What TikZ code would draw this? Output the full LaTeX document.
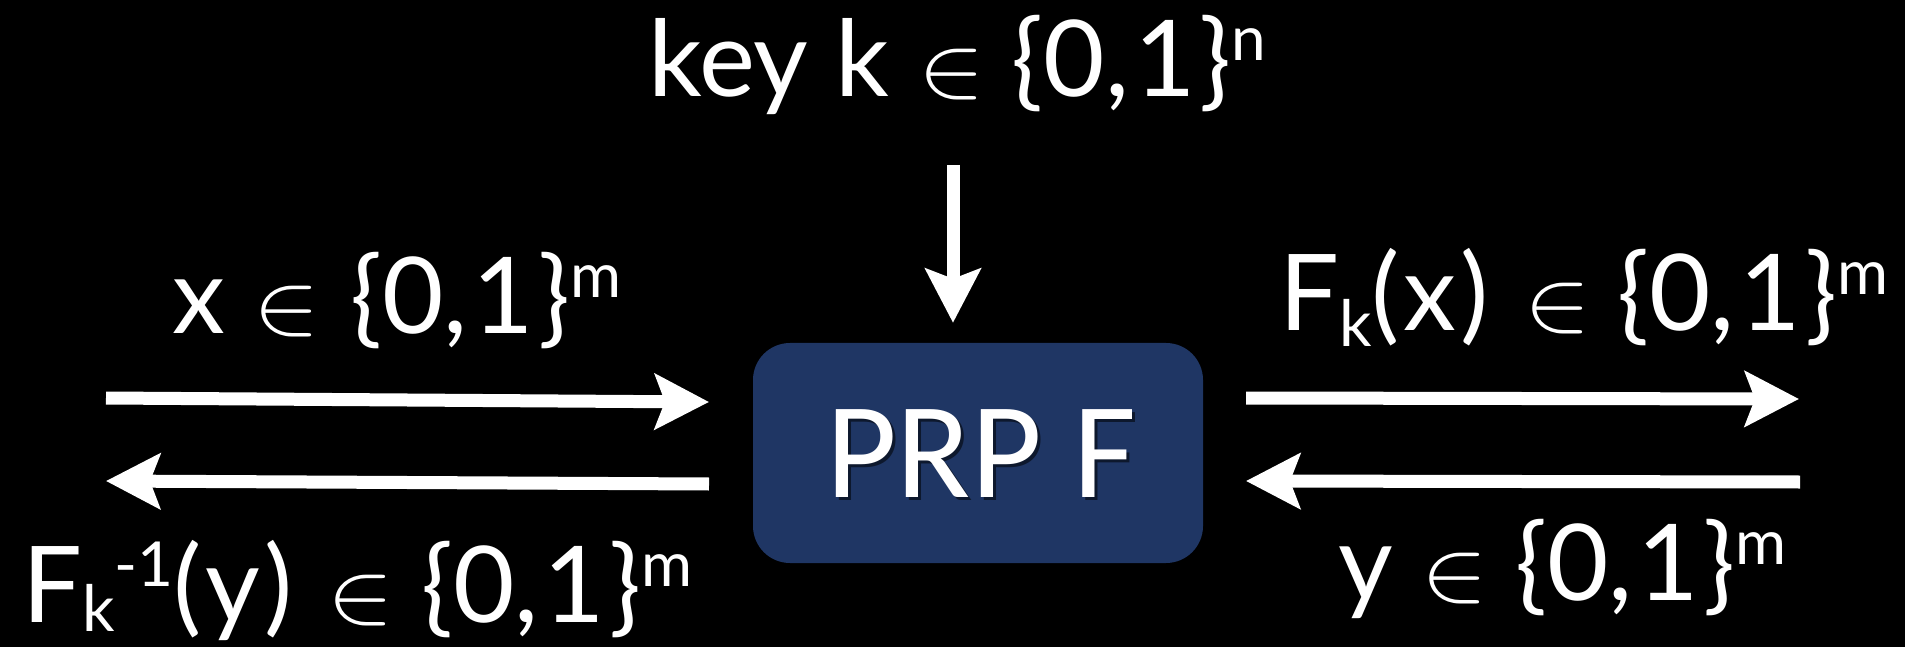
\documentclass[tikz,border=0pt]{standalone}
\usepackage{fontspec}
\setmainfont{Lato}
\newfontfamily\boxfont{Carlito}
\usetikzlibrary{arrows.meta,calc}
\definecolor{prpblue}{RGB}{31,54,100}
\newcommand\supr[1]{\raisebox{36bp}{\fontsize{62bp}{62bp}\selectfont #1}}
\newcommand\subr[2][-16bp]{\raisebox{#1}{\fontsize{64bp}{64bp}\selectfont #2}}
\newcommand\elem{\hspace{29bp}{\fontsize{10bp}{12bp}\selectfont\scalebox{10}[8.8]{$\in$}}\hspace{27bp}}
\newcommand\bits{\{0,\hspace{5bp}1\hspace{4bp}\}}
\tikzset{
  lbl/.style={text=white, inner sep=0pt, anchor=base west, font=\fontsize{106bp}{120bp}\selectfont},
  bigarrow/.style={draw=white, line width=13bp, -{Stealth[length=54bp, width=55bp, inset=10bp]}},
  prpbox/.style={fill=prpblue, rounded corners=37bp, minimum width=450bp, minimum height=220bp, inner sep=0pt},
}
\begin{document}
\begin{tikzpicture}[x=1bp, y=-1bp]
\fill[black] (0,0) rectangle (1905,647);
\useasboundingbox (0,0) rectangle (1905,647);
% box
\node[prpbox] (box) at (978,453) {};
\node[text=black, opacity=0.55, inner sep=0pt, font=\boxfont\fontsize{137bp}{150bp}\selectfont] (prpsh) at (984,457) {PRP F};
\node[text=white, inner sep=0pt, font=\boxfont\fontsize{137bp}{150bp}\selectfont] (prp) at (981,454) {PRP F};
% labels
\node[lbl] (key) at (648,97) {key k\elem\bits\supr{n}};
\node[lbl] (xin) at (172,333) {x\elem\hspace{3bp}\bits\supr{m}};
\node[lbl] (fx) at (1279,330) {F\subr{k}(\hspace{4bp}x\hspace{4bp})\hspace{6bp}\elem\bits\supr{m}};
\node[lbl] (yin) at (1338,600) {y\elem\bits\supr{m}};
\node[lbl] (finv) at (22,622) {F\subr[-9bp]{k}\supr{-1}(\hspace{4bp}y\hspace{4bp})\hspace{6bp}\elem\bits\supr{m}};
% arrow endpoints
\coordinate (ks) at (953,165);
\coordinate (l1s) at (106,398);
\coordinate (l1e) at (709,402);
\coordinate (l2s) at (709,484);
\coordinate (l2e) at (106,481);
\coordinate (r1s) at (1246,398);
\coordinate (r1e) at (1799,399);
\coordinate (r2s) at (1800,482);
\coordinate (r2e) at (1246,481);
% arrows
\draw[bigarrow, shorten >=20bp] (ks) -- (ks |- box.north);
\draw[bigarrow] (l1s) -- (l1e);
\draw[bigarrow] (l2s) -- (l2e);
\draw[bigarrow] (r1s) -- (r1e);
\draw[bigarrow] (r2s) -- (r2e);
\end{tikzpicture}
\end{document}
